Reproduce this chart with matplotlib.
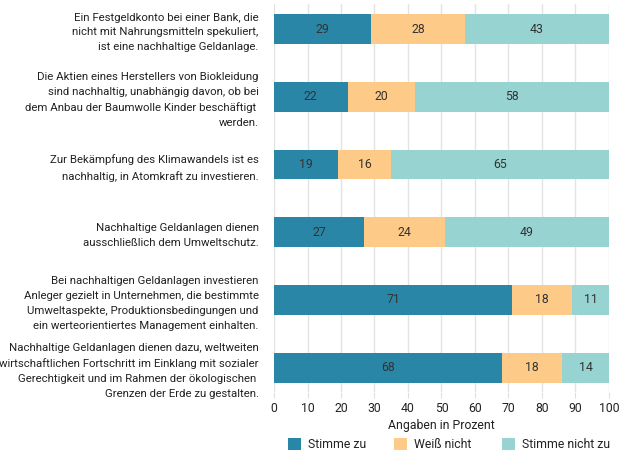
import matplotlib
matplotlib.use("Agg")
import matplotlib.pyplot as plt
from matplotlib.patches import Rectangle

plt.rcParams['font.family'] = ['Roboto', 'DejaVu Sans']

statements = [
    "Ein Festgeldkonto bei einer Bank, die\nnicht mit Nahrungsmitteln spekuliert,\nist eine nachhaltige Geldanlage.",
    "Die Aktien eines Herstellers von Biokleidung\nsind nachhaltig, unabhängig davon, ob bei\ndem Anbau der Baumwolle Kinder beschäftigt \nwerden.",
    "Zur Bekämpfung des Klimawandels ist es\nnachhaltig, in Atomkraft zu investieren.",
    "Nachhaltige Geldanlagen dienen\nausschließlich dem Umweltschutz.",
    "Bei nachhaltigen Geldanlagen investieren\nAnleger gezielt in Unternehmen, die bestimmte\nUmweltaspekte, Produktionsbedingungen und\nein werteorientiertes Management einhalten.",
    "Nachhaltige Geldanlagen dienen dazu, weltweiten\nwirtschaftlichen Fortschritt im Einklang mit sozialer\nGerechtigkeit und im Rahmen der ökologischen \nGrenzen der Erde zu gestalten.",
]
series_names = ["Stimme zu", "Weiß nicht", "Stimme nicht zu"]
stimme_zu = [29, 22, 19, 27, 71, 68]
weiss_nicht = [28, 20, 16, 24, 18, 18]
stimme_nicht_zu = [43, 58, 65, 49, 11, 14]
x_ticks = [0, 10, 20, 30, 40, 50, 60, 70, 80, 90, 100]
x_label = "Angaben in Prozent"

colors = ["#2986a6", "#fdca88", "#97d3d1"]
fs = 8.2
tc = '#222222'

W, H = 622, 454
fig = plt.figure(figsize=(W/100, H/100), dpi=100)
ax = fig.add_axes([274/W, 1-392/H, (609-274)/W, 388/H])

ypos = list(range(len(statements)))
left = [0]*len(statements)
for vals, col, name in zip([stimme_zu, weiss_nicht, stimme_nicht_zu], colors, series_names):
    bars = ax.barh(ypos, vals, left=left, height=0.44, color=col, label=name, zorder=3)
    for b, v in zip(bars, vals):
        ax.text(b.get_x() + b.get_width()/2, b.get_y() + b.get_height()/2, str(v),
                ha='center', va='center', fontsize=8.8, color='#333333', zorder=4)
    left = [l + v for l, v in zip(left, vals)]

ax.set_xlim(0, 100)
ax.set_ylim(5.36, -0.37)
ax.set_xticks(x_ticks)
ax.set_yticks(ypos)
ax.set_yticklabels(statements, fontsize=fs, color=tc, linespacing=1.6)
ax.tick_params(axis='y', length=0, pad=11)
ax.tick_params(axis='x', length=4, color='#e0e0e0', labelsize=8.8, labelcolor=tc, pad=3)
ax.grid(axis='x', color='#e3e3e3', linewidth=1, zorder=0)
for s in ax.spines.values():
    s.set_visible(False)
ax.set_xlabel(x_label, fontsize=8.8, color=tc, labelpad=3)

# legend drawn in figure pixel positions
leg_sq_x = [288, 394, 502]
leg_tx_x = [308, 414, 522]
leg_y = 444
for sx, tx, col, name in zip(leg_sq_x, leg_tx_x, colors, series_names):
    fig.add_artist(Rectangle((sx/W, (H-leg_y-6)/H), 13/W, 12/H, facecolor=col,
                             edgecolor='none', transform=fig.transFigure))
    fig.text(tx/W, (H-leg_y)/H, name, ha='left', va='center', fontsize=8.8, color=tc)

fig.savefig("out.png", dpi=100)
